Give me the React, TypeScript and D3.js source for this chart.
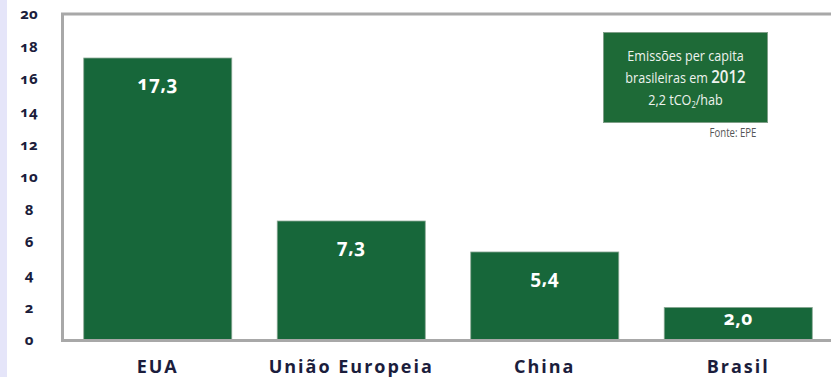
import React from "react";
import * as d3 from "d3";

const categories: string[] = ["EUA", "União Europeia", "China", "Brasil"];
const values: number[] = [17.3, 7.3, 5.4, 2.0];
const valueLabels: string[] = ["17,3", "7,3", "5,4", "2,0"];
const yTicks: number[] = [0, 2, 4, 6, 8, 10, 12, 14, 16, 18, 20];
const boxLines: string[] = ["Emissões per capita", "brasileiras em ", "2012", "2,2 tCO", "2", "/hab"];
const sourceText = "Fonte: EPE";

const W = 831;
const H = 377;
const NAVY = "#1b1d3c";
const BAR = "#17673a";
const BOX = "#1e6a37";
const GRAY = "#a8a8a8";
const NUMFONT = "'Open Sans', 'Noto Sans', sans-serif";
const NARROW = "'Open Sans', 'Noto Sans', sans-serif";

export default function App() {
  const x = d3
    .scaleBand<string>()
    .domain(categories)
    .range([61, 835])
    .paddingInner(0.235)
    .paddingOuter(0.1175);
  const y = d3.scaleLinear().domain([0, 20]).range([340, 14]);

  return (
    <div style={{ position: "fixed", left: 0, top: 0, width: W, height: H, background: "#fff" }}>
      <svg width={W} height={H} style={{ display: "block" }}>
        <rect x={0} y={0} width={W} height={H} fill="#ffffff" />
        <rect x={0} y={0} width={7} height={H} fill="#e5e5f9" />
        {/* frame */}
        <line x1={62.5} x2={62.5} y1={13} y2={341} stroke={GRAY} strokeWidth={3} />
        <line x1={61} x2={W} y1={14} y2={14} stroke={GRAY} strokeWidth={3} />
        {/* y ticks */}
        {yTicks.map((t) => (
          <text
            key={t}
            x={29}
            y={y(t)}
            dy="0.35em"
            textAnchor="middle"
            fontFamily={NUMFONT}
            fontWeight={700}
            fontSize={15}
            fill={NAVY}
            style={{ fontVariantNumeric: "oldstyle-nums" }}
          >
            {t}
          </text>
        ))}
        {/* bars */}
        {categories.map((c, i) => {
          const top = y(values[i]);
          const h = y(0) - top;
          const ly = top + Math.min(25, h / 2 - 5);
          return (
            <g key={c}>
              <rect
                x={x(c)!}
                y={top}
                width={x.bandwidth()}
                height={h}
                fill={BAR}
                stroke="#8aa894"
                strokeWidth={0.8}
              />
              <text
                x={x(c)! + x.bandwidth() / 2}
                y={ly}
                dy="0.35em"
                textAnchor="middle"
                fontFamily={NUMFONT}
                fontWeight={700}
                fontSize={19}
                letterSpacing={0.5}
                fill="#ffffff"
                style={{ fontVariantNumeric: "oldstyle-nums" }}
              >
                {valueLabels[i]}
              </text>
              <text
                x={x(c)! + x.bandwidth() / 2}
                y={373}
                textAnchor="middle"
                fontFamily={NUMFONT}
                fontWeight={700}
                fontSize={18}
                letterSpacing={2}
                fill={NAVY}
              >
                {c}
              </text>
            </g>
          );
        })}
        {/* x axis line */}
        <line x1={61} x2={W} y1={340.5} y2={340.5} stroke={GRAY} strokeWidth={3} />
        {/* info box */}
        <rect x={603.5} y={32.5} width={164} height={90} fill={BOX} stroke="#7f9f88" strokeWidth={1} />
        <g
          transform="translate(685.5,0) scale(0.84,1)"
          fontFamily={NARROW}
          fill="#eef3ee"
          textAnchor="middle"
        >
          <text x={0} y={61} fontSize={15}>
            {boxLines[0]}
          </text>
          <text x={0} y={83} fontSize={15}>
            {boxLines[1]}
            <tspan fontSize={18} fontWeight={600}>
              {boxLines[2]}
            </tspan>
          </text>
          <text x={0} y={105} fontSize={15}>
            {boxLines[3]}
            <tspan fontSize={9} dy={3}>
              {boxLines[4]}
            </tspan>
            <tspan dy={-3}>{boxLines[5]}</tspan>
          </text>
        </g>
        <g transform="translate(733,0) scale(0.8,1)">
          <text x={0} y={137} textAnchor="middle" fontFamily={NARROW} fontSize={12} fill="#555555">
            {sourceText}
          </text>
        </g>
      </svg>
    </div>
  );
}
